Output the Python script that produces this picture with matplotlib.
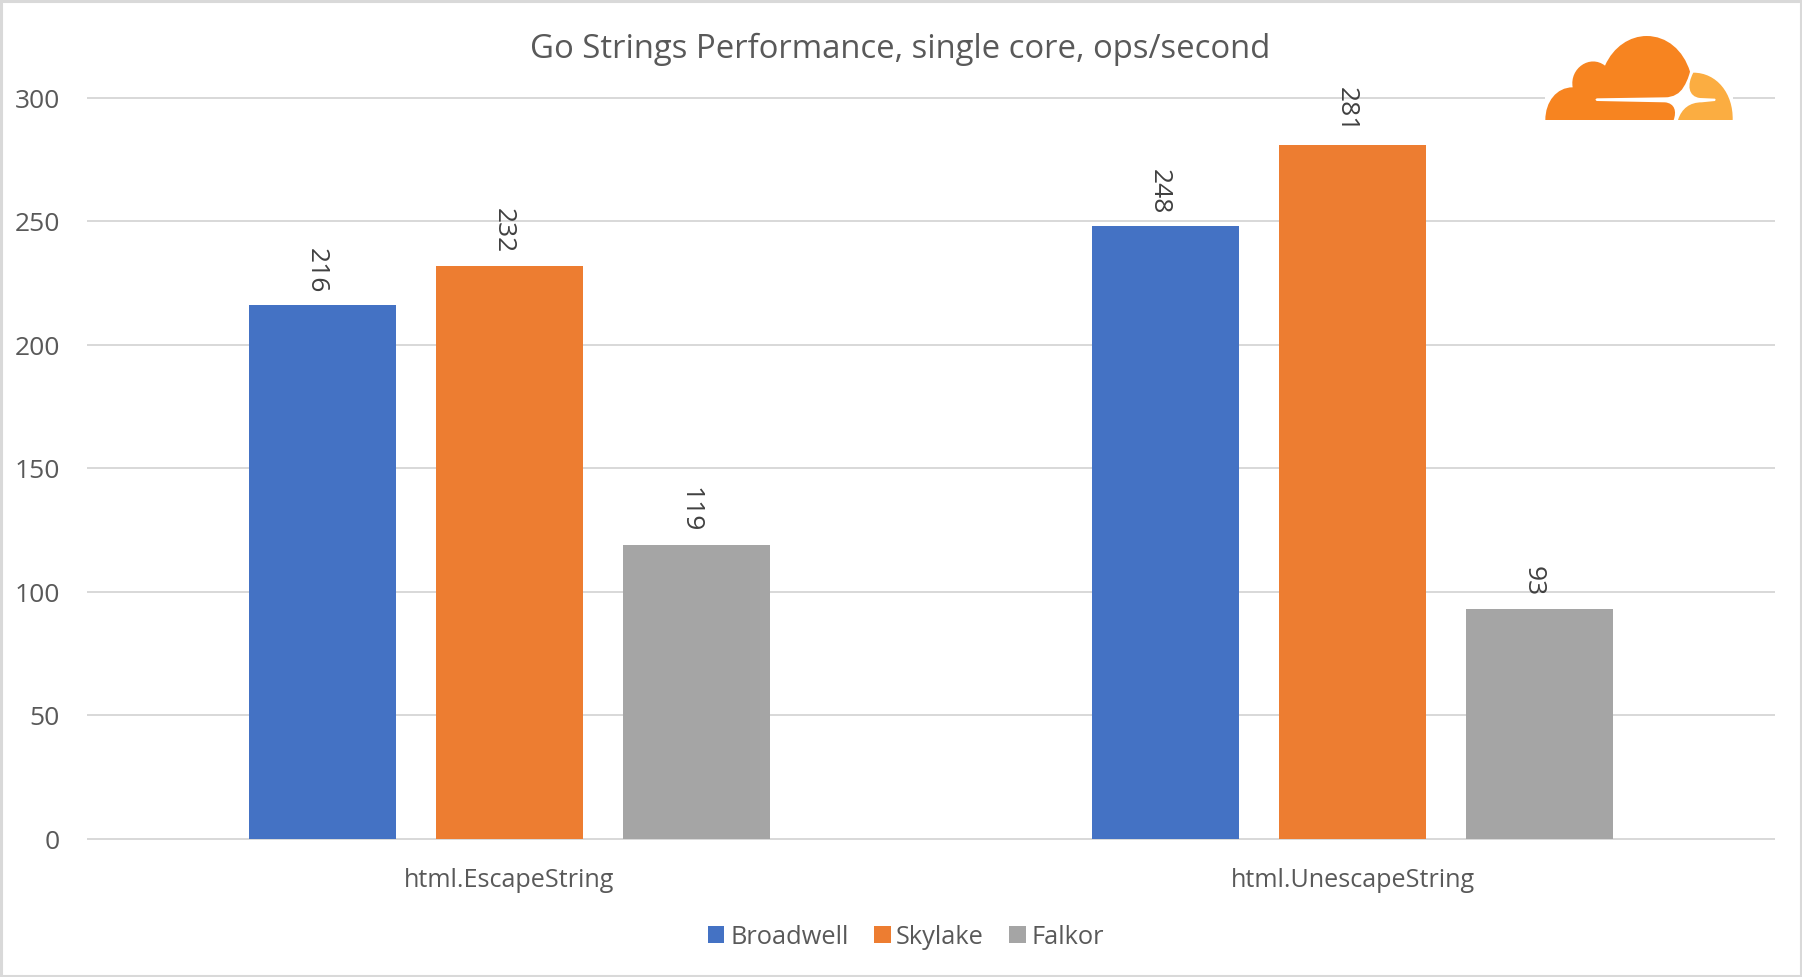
import matplotlib
matplotlib.use("Agg")
import matplotlib.pyplot as plt
import numpy as np
from matplotlib.path import Path
from matplotlib.patches import PathPatch, Rectangle
from matplotlib.transforms import Affine2D, ScaledTranslation

categories = ["html.EscapeString", "html.UnescapeString"]
series_names = ["Broadwell", "Skylake", "Falkor"]
broadwell = [216, 248]
skylake = [232, 281]
falkor = [119, 93]
colors = ["#4472C4", "#ED7D31", "#A5A5A5"]
yticks = [0, 50, 100, 150, 200, 250, 300]
title = "Go Strings Performance, single core, ops/second"

W, H = 1802, 977
plt.rcParams["font.family"] = ["Open Sans", "DejaVu Sans"]
fig = plt.figure(figsize=(W / 100, H / 100), dpi=100, facecolor="white")
L, R, B, T = 88, 1774, 838.7, 98
ax = fig.add_axes([L / W, 1 - B / H, (R - L) / W, (B - T) / H])
ax.set_xlim(-0.5, 1.5)
ax.set_ylim(0, 300)
for s in ax.spines.values():
    s.set_visible(False)
ax.set_axisbelow(True)
ax.yaxis.grid(True, color="#D9D9D9", lw=1.44, clip_on=False)
ax.spines["bottom"].set_visible(True)
ax.spines["bottom"].set_color("#D9D9D9")
ax.spines["bottom"].set_linewidth(1.44)
ax.set_yticks(yticks)
ax.set_xticks(range(len(categories)), categories)
ax.tick_params(axis="y", length=0, labelsize=19, labelcolor="#595959", pad=20.2)
ax.tick_params(axis="x", length=0, labelsize=18.1, labelcolor="#595959", pad=21)
down = ScaledTranslation(0, -2.5 / 72, fig.dpi_scale_trans)
for lab in ax.get_yticklabels():
    lab.set_verticalalignment("center")
    lab.set_transform(lab.get_transform() + down)

step, bw = 0.2217, 0.1745
x = np.arange(len(categories))
for i, (vals, name, c) in enumerate(zip([broadwell, skylake, falkor], series_names, colors)):
    ax.bar(x + (i - 1) * step, vals, bw, color=c, label=name, zorder=3)
    for xi, v in zip(x + (i - 1) * step, vals):
        ax.annotate(str(v), (xi, v), xytext=(-4.5, 9), textcoords="offset points",
                    rotation=-90, ha="center", va="bottom", fontsize=19, color="#404040")

fig.text(900 / W, 1 - 49.5 / H, title, ha="center", va="center", fontsize=23.7, color="#595959")

leg = fig.legend(loc="center", bbox_to_anchor=(906 / W, 1 - 937 / H), ncol=3, frameon=False,
                 fontsize=18.3, handlelength=0.66, handleheight=0.66, handletextpad=0.22,
                 columnspacing=1.0, labelcolor="#595959", borderpad=0)

# page frame
fig.add_artist(Rectangle((1, 1), W - 2, H - 2, transform=None, fill=False,
                         edgecolor="#D9D9D9", lw=2.2, zorder=10))

# logo (decoration), outline traced in zoom-crop coordinates
to_px = Affine2D().scale(1 / 3, -1 / 3).translate(1500, H)
M, C4, LN, CL = Path.MOVETO, Path.CURVE4, Path.LINETO, Path.CLOSEPOLY
main_v = [(136, 360), (136, 305), (170, 262), (218, 262),
          (208, 205), (270, 162), (315, 197),
          (340, 140), (390, 108), (440, 108),
          (500, 108), (550, 150), (570, 215),
          (565, 235), (558, 250), (550, 262),
          (540, 280), (520, 292), (495, 292),
          (290, 295), (286, 299), (290, 303), (495, 307),
          (525, 310), (530, 335), (521, 360), (136, 360)]
main_c = [M, C4, C4, C4, C4, C4, C4, C4, C4, C4, C4, C4, C4, C4, C4, C4, C4, C4, C4,
          LN, LN, LN, LN, C4, C4, C4, CL]
right_v = [(580, 218), (650, 218), (700, 280), (698, 360),
           (534, 360), (545, 325), (570, 307), (605, 307),
           (645, 303), (647, 299), (645, 296), (600, 294),
           (565, 290), (560, 255), (580, 218), (580, 218)]
right_c = [M, C4, C4, C4, LN, C4, C4, C4, LN, LN, LN, LN, C4, C4, C4, CL]
fig.add_artist(Rectangle((136, 280), 564, 30, transform=to_px, facecolor="white",
                         edgecolor="none", zorder=6))
fig.add_artist(PathPatch(Path(main_v, main_c), transform=to_px, facecolor="#F78420",
                         edgecolor="none", zorder=7))
fig.add_artist(PathPatch(Path(right_v, right_c), transform=to_px, facecolor="#FBAD41",
                         edgecolor="none", zorder=7))

fig.savefig("out.png", dpi=100, facecolor="white")
